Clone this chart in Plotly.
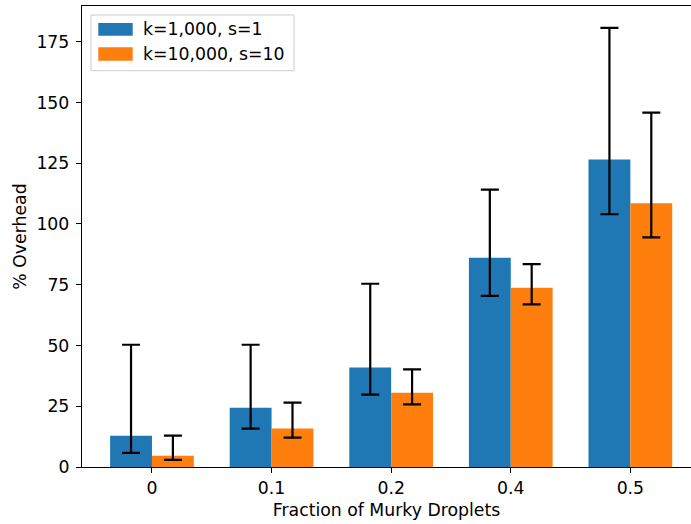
import plotly.graph_objects as go

categories = ["0", "0.1", "0.2", "0.4", "0.5"]
series_names = ["k=1,000, s=1", "k=10,000, s=10"]
blue_vals = [12.9, 24.4, 40.9, 86.1, 126.5]
blue_low = [5.8, 15.8, 29.8, 70.4, 104.0]
blue_high = [50.3, 50.3, 75.4, 114.1, 180.7]
orange_vals = [4.6, 15.8, 30.6, 73.8, 108.5]
orange_low = [2.9, 12.1, 25.8, 66.9, 94.5]
orange_high = [12.9, 26.5, 40.2, 83.5, 145.8]
colors = ["#1f77b4", "#ff7f0e"]
yticks = [0, 25, 50, 75, 100, 125, 150, 175]

FONT = "DejaVu Sans"
FS = 17.3

fig = go.Figure()
for name, vals, lo, hi, col in [
    (series_names[0], blue_vals, blue_low, blue_high, colors[0]),
    (series_names[1], orange_vals, orange_low, orange_high, colors[1]),
]:
    fig.add_trace(go.Bar(
        x=categories, y=vals, name=name, marker_color=col, marker_line_width=0,
        error_y=dict(type="data", symmetric=False,
                     array=[h - v for h, v in zip(hi, vals)],
                     arrayminus=[v - l for v, l in zip(vals, lo)],
                     color="black", thickness=2.2, width=9),
        showlegend=False,
    ))

# legend drawn as layout decoration
L, T, W, H = 82, 6, 609, 461
def px(x):
    return (x - L) / W
def py(y):
    return 1 - (y - T) / H

shapes = [
    dict(type="rect", xref="paper", yref="paper", x0=px(91), x1=px(294), y0=py(70.7), y1=py(15),
         line=dict(color="#cccccc", width=1), fillcolor="rgba(255,255,255,0.8)"),
    dict(type="rect", xref="paper", yref="paper", x0=px(98.3), x1=px(132.7), y0=py(35.7), y1=py(23),
         line=dict(width=0), fillcolor=colors[0]),
    dict(type="rect", xref="paper", yref="paper", x0=px(98.3), x1=px(132.7), y0=py(60.7), y1=py(47.3),
         line=dict(width=0), fillcolor=colors[1]),
]
annotations = [
    dict(xref="paper", yref="paper", x=px(141), y=py(29.5), text=series_names[0], showarrow=False,
         xanchor="left", yanchor="middle", font=dict(family=FONT, size=FS, color="black")),
    dict(xref="paper", yref="paper", x=px(141), y=py(54), text=series_names[1], showarrow=False,
         xanchor="left", yanchor="middle", font=dict(family=FONT, size=FS, color="black")),
]

fig.update_layout(
    width=691, height=524,
    margin=dict(l=L, r=691 - L - W, t=T, b=524 - T - H),
    plot_bgcolor="white", paper_bgcolor="white",
    barmode="group", bargap=0.3, bargroupgap=0,
    font=dict(family=FONT, size=FS, color="black"),
    shapes=shapes, annotations=annotations,
    xaxis=dict(
        range=[-0.585, 4.507], showgrid=False, showline=True, linecolor="black", linewidth=1.3,
        mirror=True, ticks="outside", ticklen=5, tickcolor="black", tickwidth=1.3,
        title=dict(text="Fraction of Murky Droplets", standoff=6, font=dict(size=FS)),
        tickfont=dict(size=FS),
    ),
    yaxis=dict(
        range=[0, 189.7], showgrid=False, showline=True, linecolor="black", linewidth=1.3,
        ticks="outside", ticklen=5, tickcolor="black", tickwidth=1.3, zeroline=False,
        tickvals=yticks, ticktext=[str(v) for v in yticks], ticklabelstandoff=3,
        title=dict(text="% Overhead", standoff=5, font=dict(size=FS)),
        tickfont=dict(size=FS),
    ),
)

fig.write_html("out.html")
